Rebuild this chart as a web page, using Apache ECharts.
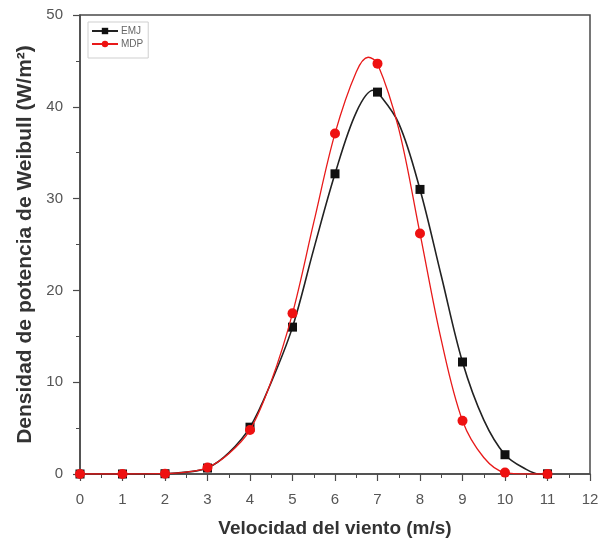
<!DOCTYPE html>
<html>
<head>
<meta charset="utf-8">
<script src="https://cdn.jsdelivr.net/npm/echarts@6/dist/echarts.min.js"></script>
<style>
  html, body { margin: 0; padding: 0; background: #fff; }
  #chart { width: 603px; height: 546px; }
</style>
</head>
<body>
<div id="chart"></div>
<script>
// Wind speed (m/s) at which each measured point is plotted
const speeds = [0, 1, 2, 3, 4, 5, 6, 7, 8, 9, 10, 11];
// Weibull power density (W/m²) at each speed
const emjValues = [0, 0, 0.03, 0.65, 5.1, 16.0, 32.7, 41.6, 31.0, 12.2, 2.1, 0.02];
const mdpValues = [0, 0, 0.03, 0.7, 4.8, 17.5, 37.1, 44.7, 26.2, 5.8, 0.15, 0];

// Fitted curve samples between the measured speeds
const emjCurveX = [2.5, 3.5, 4.5, 5.5, 6.5, 6.9, 7.5, 8.5, 9.5, 10.5, 10.8];
const emjCurveY = [0.2, 2.3, 10.0, 24.5, 39.4, 41.8, 38.2, 21.6, 5.9, 0.5, 0.0];
const mdpCurveX = [2.5, 3.5, 4.5, 5.5, 6.5, 6.78, 7.5, 8.5, 9.5, 10.5];
const mdpCurveY = [0.2, 2.2, 10.1, 27.4, 43.8, 45.4, 37.6, 14.6, 1.8, 0.0];

const xTicks = [0, 1, 2, 3, 4, 5, 6, 7, 8, 9, 10, 11, 12];
const yTicks = [0, 10, 20, 30, 40, 50];

function buildData(xs, ys, cx, cy) {
  const pts = [];
  xs.forEach((x, i) => pts.push({ value: [x, ys[i]] }));
  cx.forEach((x, i) => pts.push({ value: [x, cy[i]], symbol: 'none' }));
  pts.sort((a, b) => a.value[0] - b.value[0]);
  return pts;
}

const chart = echarts.init(document.getElementById('chart'), null, { renderer: 'canvas' });

const axisColor = '#4a4a4a';
const labelColor = '#555';
const font = 'Liberation Sans, Arial, sans-serif';

chart.setOption({
  backgroundColor: '#fff',
  animation: false,
  grid: {
    left: 80, right: 13, top: 15, bottom: 72,
    show: true, borderColor: axisColor, borderWidth: 1.5, backgroundColor: 'transparent'
  },
  legend: {
    left: 88, top: 22,
    orient: 'vertical',
    itemWidth: 26, itemHeight: 8, itemGap: 3,
    padding: [4, 5, 9, 3],
    borderColor: '#cfcfcf', borderWidth: 1,
    textStyle: { fontFamily: font, fontSize: 10, color: '#666', padding: [0, 0, 0, -2] },
    data: ['EMJ', 'MDP']
  },
  xAxis: {
    type: 'value',
    min: xTicks[0], max: xTicks[xTicks.length - 1], interval: 1,
    name: 'Velocidad del viento (m/s)',
    nameLocation: 'middle', nameGap: 45,
    nameTextStyle: { fontFamily: font, fontSize: 19, fontWeight: 'bold', color: '#333' },
    axisLine: { show: true, onZero: false, lineStyle: { color: axisColor, width: 1.5 } },
    axisTick: { show: true, length: 7, lineStyle: { color: axisColor, width: 1.2 } },
    minorTick: { show: true, splitNumber: 2, length: 4, lineStyle: { color: axisColor, width: 1 } },
    axisLabel: { margin: 18, fontFamily: font, fontSize: 15, color: labelColor },
    splitLine: { show: false }
  },
  yAxis: {
    type: 'value',
    min: yTicks[0], max: yTicks[yTicks.length - 1], interval: 10,
    name: 'Densidad de potencia de Weibull (W/m²)',
    nameLocation: 'middle', nameGap: 37, nameRotate: 90,
    nameTextStyle: { fontFamily: font, fontSize: 21, fontWeight: 'bold', color: '#333' },
    axisLine: { show: true, lineStyle: { color: axisColor, width: 1.5 } },
    axisTick: { show: true, length: 7, lineStyle: { color: axisColor, width: 1.2 } },
    minorTick: { show: true, splitNumber: 2, length: 4, lineStyle: { color: axisColor, width: 1 } },
    axisLabel: { margin: 17, fontFamily: font, fontSize: 15, color: labelColor },
    splitLine: { show: false }
  },
  series: [
    {
      name: 'EMJ', type: 'line', smooth: 0.35,
      data: buildData(speeds, emjValues, emjCurveX, emjCurveY),
      symbol: 'rect', symbolSize: 9, showAllSymbol: true,
      itemStyle: { color: '#111' },
      lineStyle: { color: '#222', width: 1.6 },
      z: 2
    },
    {
      name: 'MDP', type: 'line', smooth: 0.35,
      data: buildData(speeds, mdpValues, mdpCurveX, mdpCurveY),
      symbol: 'circle', symbolSize: 10, showAllSymbol: true,
      itemStyle: { color: '#ee1111' },
      lineStyle: { color: '#e81a1a', width: 1.3 },
      z: 3
    }
  ]
});
</script>
</body>
</html>
